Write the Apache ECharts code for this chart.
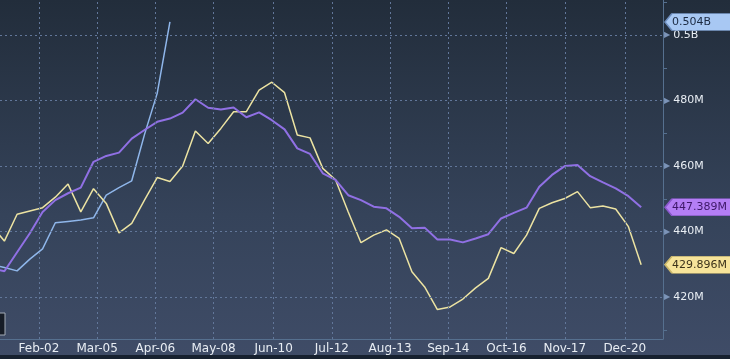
<!DOCTYPE html>
<html>
<head>
<meta charset="utf-8">
<style>
  html, body { margin: 0; padding: 0; background: #1a2636; }
  #chart { width: 730px; height: 359px; }
</style>
<script src="https://cdn.jsdelivr.net/npm/echarts@6/dist/echarts.min.js"></script>
</head>
<body>
<div id="chart"></div>
<script>
// x is in days counted from Feb-02; points are weekly
const tickDays = [0, 32, 64, 96, 129, 161, 193, 225, 257, 289, 322];
const tickLabels = ['Feb-02', 'Mar-05', 'Apr-06', 'May-08', 'Jun-10', 'Jul-12', 'Aug-13', 'Sep-14', 'Oct-16', 'Nov-17', 'Dec-20'];
const firstDay = -26;

// values in millions
const yellowVals = [441.8, 437.1, 445.3, 446.3, 447.3, 450.5, 454.5, 446.0, 453.1, 448.6,
  439.6, 442.5, 449.6, 456.5, 455.3, 460.0, 470.7, 466.9, 471.5, 476.6,
  476.6, 483.2, 485.6, 482.4, 469.5, 468.6, 459.3, 455.8, 446.0, 436.6,
  438.9, 440.5, 437.9, 427.7, 423.1, 416.2, 417.0, 419.4, 422.8, 425.7,
  435.1, 433.3, 438.9, 447.1, 448.8, 450.1, 452.2, 447.3, 447.8, 446.9,
  441.5, 429.896];
const purpleVals = [428.7, 427.9, 433.7, 439.5, 446.0, 449.6, 451.7, 453.4, 461.3, 463.1,
  464.1, 468.4, 471.0, 473.5, 474.5, 476.3, 480.4, 477.8, 477.3, 477.9,
  474.9, 476.4, 474.0, 471.2, 465.4, 463.7, 457.8, 455.8, 451.1, 449.6,
  447.6, 447.1, 444.5, 441.0, 441.2, 437.6, 437.6, 436.7, 437.9, 439.2,
  444.0, 445.7, 447.3, 453.7, 457.3, 460.0, 460.3, 456.9, 455.0, 453.2,
  450.8, 447.389];
const blueVals = [430.0, 429.0, 428.0, 431.6, 434.7, 442.7, 443.1, 443.5, 444.2, 451.1,
  453.4, 455.5, 469.6, 482.2, 504.0];

const yLabelVals = [420, 440, 460, 480, 500];
const yMinorVals = [410, 420, 430, 440, 450, 460, 470, 480, 490, 500, 510];

const xMin = -21.4, xMax = 343;
const yMin = 407.2, yMax = 510.7;
const FONT = 'DejaVu Sans';

const toPts = vals => vals.map((v, i) => [firstDay + 7 * i, v]);
const fmtVal = v => v >= 500 ? (v / 1000) + 'B' : v + 'M';
const fmtTag = v => v >= 500 ? (v / 1000).toFixed(3) + 'B' : v.toFixed(3) + 'M';

function tag(val, bg, border, fg) {
  return {
    silent: true,
    animation: false,
    symbol: 'path://M0,8L7,0L66,0L66,16L7,16Z',
    symbolSize: [66, 17],
    symbolOffset: [35, 0],
    itemStyle: { color: bg, borderColor: border, borderWidth: 1 },
    label: {
      show: true, position: 'insideLeft', distance: 8,
      color: fg, fontSize: 11, fontFamily: FONT,
      formatter: fmtTag(val)
    },
    data: [{ coord: [xMax, val] }]
  };
}

// dashed grid drawn as mark lines at the tick values
const gridMarks = {
  silent: true,
  animation: false,
  symbol: 'none',
  label: { show: false },
  lineStyle: { color: '#62779a', width: 1, type: [2, 3] },
  data: tickDays.map(d => ({ xAxis: d })).concat(yLabelVals.map(v => ({ yAxis: v })))
};

const chart = echarts.init(document.getElementById('chart'));
chart.setOption({
  animation: false,
  backgroundColor: {
    type: 'linear', x: 0, y: 0, x2: 0, y2: 1,
    colorStops: [
      { offset: 0, color: '#222d3b' },
      { offset: 0.6, color: '#35435a' },
      { offset: 1, color: '#3f4c67' }
    ]
  },
  grid: { left: 0, right: 67, top: 0, bottom: 20 },
  graphic: [
    { type: 'rect', shape: { x: 0, y: 355, width: 730, height: 4 }, style: { fill: '#17212f' }, silent: true },
    { type: 'rect', shape: { x: -1, y: 313, width: 6, height: 22 }, style: { fill: '#161c26', stroke: '#a3abb6', lineWidth: 1 }, silent: true }
  ],
  xAxis: {
    type: 'value', min: xMin, max: xMax,
    axisLine: { show: true, onZero: false, lineStyle: { color: '#56708f' } },
    axisTick: { show: false },
    axisLabel: {
      customValues: tickDays,
      formatter: v => tickLabels[tickDays.indexOf(v)],
      color: '#e8edf3', fontSize: 12, fontFamily: FONT, margin: 4
    },
    splitLine: { show: false }
  },
  yAxis: {
    type: 'value', position: 'right', min: yMin, max: yMax,
    axisLine: { show: true, onZero: false, lineStyle: { color: '#56708f' } },
    axisTick: { show: true, customValues: yMinorVals, length: 4, lineStyle: { color: '#56708f' } },
    axisLabel: {
      customValues: yLabelVals, margin: 1,
      formatter: v => '{t|\u25B6}{v|' + fmtVal(v) + '}',
      rich: {
        t: { fontSize: 8, color: '#7c94b8', fontFamily: FONT },
        v: { fontSize: 11, color: '#e8edf3', fontFamily: FONT, padding: [0, 0, 0, 3] }
      }
    },
    splitLine: { show: false }
  },
  series: [{
    name: 'grid', type: 'line', data: [], markLine: gridMarks
  }, {
    name: 'blue', type: 'line', symbol: 'none', data: toPts(blueVals),
    lineStyle: { color: '#8fb6ea', width: 1.5 },
    markPoint: tag(blueVals[blueVals.length - 1], '#a8c8f3', '#6f8fbf', '#1b2a42')
  }, {
    name: 'yellow', type: 'line', symbol: 'none', data: toPts(yellowVals),
    lineStyle: { color: '#ece3a2', width: 1.5 },
    markPoint: tag(yellowVals[yellowVals.length - 1], '#f7e49a', '#c9b66a', '#3c321a')
  }, {
    name: 'purple', type: 'line', symbol: 'none', data: toPts(purpleVals),
    lineStyle: { color: '#9070e4', width: 2 },
    markPoint: tag(purpleVals[purpleVals.length - 1], '#b47ef5', '#8a58cc', '#3e1868')
  }]
});
</script>
</body>
</html>
